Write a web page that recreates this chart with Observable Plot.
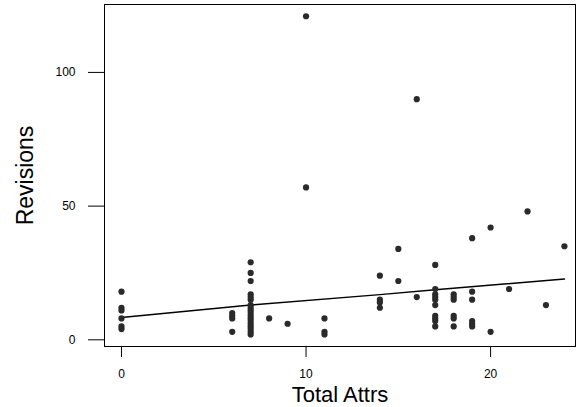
<!DOCTYPE html>
<html>
<head>
<meta charset="utf-8">
<script src="https://cdn.jsdelivr.net/npm/d3@7"></script>
<script src="https://cdn.jsdelivr.net/npm/@observablehq/plot@0.6"></script>
<style>
  html, body { margin: 0; padding: 0; background: #fff; }
  #chart svg { display: block; }
</style>
</head>
<body>
<div id="chart"></div>
<script>
// Scatter points: Total Attrs (x) vs Revisions (y)
const totalAttrs = [
  0,0,0,0,0,0,
  6,6,6,6,
  7,7,7,7,7,7,7,7,7,7,7,7,7,7,7,7,7,7,
  8, 9,
  10,10,
  11,11,11,
  14,14,14,14,
  15,15,
  16,16,
  17,17,17,17,17,17,17,17,17,17,
  18,18,18,18,18,18,
  19,19,19,19,19,19,
  20,20,
  21, 22, 23, 24
];
const revisions = [
  18,12,11,8,5,4,
  10,9,8,3,
  29,25,22,17,16,15,13,12,11,10,9,8,7,6,5,4,3,2,
  8, 6,
  121,57,
  8,3,2,
  24,15,14,12,
  34,22,
  16,90,
  28,19,17,16,15,13,9,8,7,5,
  17,16,15,9,8,5,
  38,18,15,7,6,5,
  42,3,
  19, 48, 13, 35
];
// Smoothed trend line
const trendX = [0, 7, 14, 17, 24];
const trendY = [8.3, 13.0, 16.9, 18.7, 22.7];

const xTicks = [0, 10, 20];
const yTicks = [0, 50, 100];
const xTitle = "Total Attrs";
const yTitle = "Revisions";

const points = totalAttrs.map((x, i) => ({x, y: revisions[i]}));
const trend = trendX.map((x, i) => ({x, y: trendY[i]}));

const chart = Plot.plot({
  width: 582,
  height: 407,
  marginLeft: 104,
  marginRight: 7,
  marginTop: 4,
  marginBottom: 61,
  style: {fontFamily: "'Liberation Sans', Arial, sans-serif", fontSize: "12px", color: "#000", background: "#fff"},
  x: {domain: [-0.92, 24.6]},
  y: {domain: [-2.5, 125.4]},
  marks: [
    Plot.frame({stroke: "#000", strokeWidth: 1}),
    Plot.axisX({ticks: xTicks, tickSize: 11, tickPadding: 12, label: null, fontSize: 12, stroke: "#000", fill: "#000"}),
    Plot.axisY({ticks: yTicks, tickSize: 16, tickPadding: 13, label: null, fontSize: 12, stroke: "#000", fill: "#000"}),
    Plot.line(trend, {x: "x", y: "y", stroke: "#000", strokeWidth: 1.5}),
    Plot.dot(points, {x: "x", y: "y", r: 3.1, fill: "#2a2a2a", stroke: "none"}),
    Plot.text([xTitle], {text: d => d, frameAnchor: "bottom", textAnchor: "middle", lineAnchor: "middle", dy: 48, fontSize: 22, fill: "#000"}),
    Plot.text([yTitle], {text: d => d, frameAnchor: "left", textAnchor: "middle", lineAnchor: "middle", rotate: -90, dx: -79, fontSize: 23, fill: "#000"})
  ]
});
document.getElementById("chart").appendChild(chart);
</script>
</body>
</html>
